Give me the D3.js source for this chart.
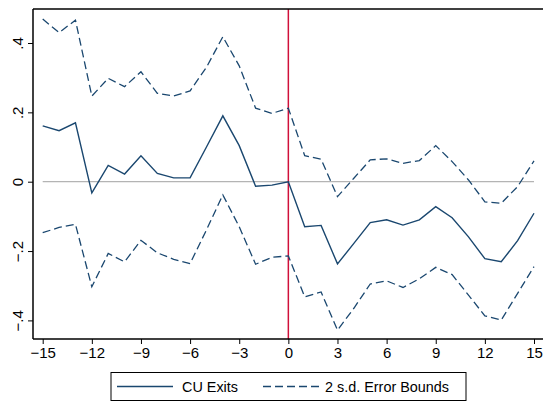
<!DOCTYPE html>
<html>
<head>
<meta charset="utf-8">
<script src="https://cdn.jsdelivr.net/npm/d3@7"></script>
<style>
body{margin:0;background:#fff;}
svg{display:block;font-family:"Liberation Sans",Arial,sans-serif;}
</style>
</head>
<body>
<svg id="chart" width="543" height="402"></svg>
<script>
const periods = d3.range(-15, 16);
const cuExits = [0.161,0.147,0.170,-0.032,0.047,0.022,0.075,0.024,0.011,0.011,0.100,0.190,0.104,-0.013,-0.010,0.000,
  -0.130,-0.126,-0.237,-0.178,-0.118,-0.110,-0.125,-0.110,-0.072,-0.104,-0.159,-0.222,-0.231,-0.170,-0.091];
const upperBound = [0.469,0.430,0.466,0.247,0.298,0.274,0.317,0.255,0.247,0.262,0.330,0.418,0.334,0.212,0.197,0.212,
  0.075,0.065,-0.043,0.010,0.063,0.066,0.053,0.061,0.104,0.058,0.005,-0.058,-0.062,-0.014,0.060];
const lowerBound = [-0.147,-0.132,-0.123,-0.303,-0.207,-0.231,-0.169,-0.205,-0.224,-0.236,-0.139,-0.038,-0.130,-0.238,-0.218,-0.214,
  -0.332,-0.318,-0.428,-0.365,-0.295,-0.286,-0.305,-0.280,-0.247,-0.268,-0.327,-0.387,-0.399,-0.322,-0.245];
const xTicks = [-15,-12,-9,-6,-3,0,3,6,9,12,15];
const yTicks = [-0.4,-0.2,0,0.2,0.4];
const yTickLabels = ["\u2212.4","\u2212.2","0",".2",".4"];
const legendLabels = ["CU Exits","2 s.d. Error Bounds"];

const svg = d3.select("#chart");
const navy = "#1a476f";
const plotLeft = 33, plotRight = 543, plotTop = 9, plotBottom = 339;
const dash = "8,4";

const x = d3.scaleLinear().domain([-15, 15]).range([42.7, 534]);
const y = d3.scaleLinear().domain([0, 0.2]).range([181.7, 112.35]);

// zero line
svg.append("line").attr("x1", x(-15)).attr("x2", x(15)).attr("y1", y(0)).attr("y2", y(0))
  .attr("stroke", "#b4b4b4").attr("stroke-width", 1.3);

// red vertical line
svg.append("line").attr("x1", x(0)).attr("x2", x(0)).attr("y1", plotTop).attr("y2", plotBottom)
  .attr("stroke", "#d0103a").attr("stroke-width", 1.5);

const line = d3.line().x((d, i) => x(periods[i])).y(d => y(d));

svg.append("path").datum(upperBound).attr("d", line).attr("fill", "none")
  .attr("stroke", navy).attr("stroke-width", 1.3).attr("stroke-dasharray", dash);
svg.append("path").datum(lowerBound).attr("d", line).attr("fill", "none")
  .attr("stroke", navy).attr("stroke-width", 1.3).attr("stroke-dasharray", dash);
svg.append("path").datum(cuExits).attr("d", line).attr("fill", "none")
  .attr("stroke", navy).attr("stroke-width", 1.4);

// frame top
svg.append("line").attr("x1", plotLeft).attr("x2", plotRight).attr("y1", plotTop).attr("y2", plotTop)
  .attr("stroke", "#000").attr("stroke-width", 1.3);

// x axis
const xAxis = d3.axisBottom(x).tickValues(xTicks).tickSize(5).tickPadding(3)
  .tickFormat(d => d < 0 ? "\u2212" + Math.abs(d) : String(d));
const gx = svg.append("g").attr("transform", `translate(0,${plotBottom})`).call(xAxis);
gx.select(".domain").remove();
gx.append("line").attr("x1", plotLeft).attr("x2", plotRight).attr("y1", 0).attr("y2", 0)
  .attr("stroke", "#000").attr("stroke-width", 1.5);
gx.selectAll(".tick line").attr("stroke", "#000").attr("stroke-width", 1);
gx.selectAll(".tick text").attr("fill", "#000").style("font-size", "15px")
  .style("font-family", '"Liberation Sans",Arial,sans-serif');

// y axis
const yAxis = d3.axisLeft(y).tickValues(yTicks).tickSize(5)
  .tickFormat((d, i) => yTickLabels[i]);
const gy = svg.append("g").attr("transform", `translate(${plotLeft},0)`).call(yAxis);
gy.select(".domain").remove();
gy.append("line").attr("x1", 0).attr("x2", 0).attr("y1", plotTop).attr("y2", plotBottom)
  .attr("stroke", "#000").attr("stroke-width", 1.5);
gy.selectAll(".tick line").attr("stroke", "#000").attr("stroke-width", 1);
gy.selectAll(".tick text").attr("fill", "#000").style("font-size", "15px")
  .style("font-family", '"Liberation Sans",Arial,sans-serif')
  .attr("x", null).attr("dy", null)
  .attr("text-anchor", "middle")
  .attr("transform", "translate(-16,0) rotate(-90)")
  .attr("dominant-baseline", "central");

// legend
const lg = svg.append("g");
lg.append("rect").attr("x", 111).attr("y", 372.5).attr("width", 355).attr("height", 28)
  .attr("fill", "#fff").attr("stroke", "#000").attr("stroke-width", 1);
const ly = 386.5;
lg.append("line").attr("x1", 117).attr("x2", 173).attr("y1", ly).attr("y2", ly)
  .attr("stroke", navy).attr("stroke-width", 1.4);
lg.append("text").attr("x", 182).attr("y", ly).attr("dominant-baseline", "central")
  .style("font-size", "14.4px").text(legendLabels[0]);
lg.append("line").attr("x1", 263).attr("x2", 319).attr("y1", ly).attr("y2", ly)
  .attr("stroke", navy).attr("stroke-width", 1.3).attr("stroke-dasharray", dash);
lg.append("text").attr("x", 325).attr("y", ly).attr("dominant-baseline", "central")
  .style("font-size", "14.4px").text(legendLabels[1]);
</script>
</body>
</html>
